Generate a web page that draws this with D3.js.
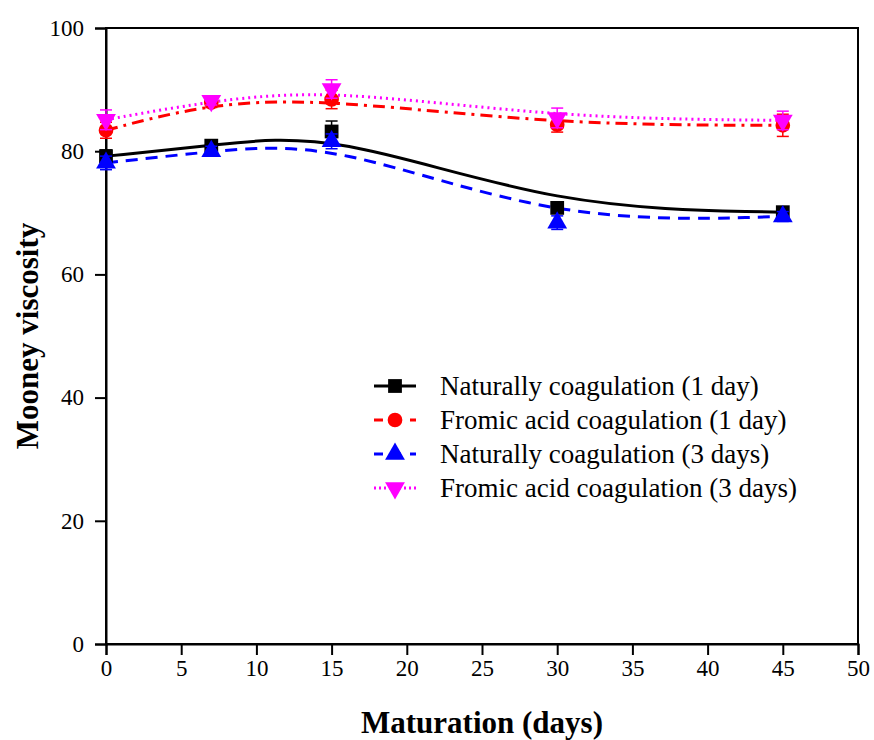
<!DOCTYPE html>
<html>
<head>
<meta charset="utf-8">
<script src="https://cdn.jsdelivr.net/npm/d3@7"></script>
<style>
  body { margin: 0; background: #fff; }
  svg text { font-family: "Liberation Serif", "Times New Roman", serif; }
</style>
</head>
<body>
<div id="chart"></div>
<script>
// Maturation days
const days = [0, 7, 15, 30, 45];

// Mooney viscosity per series
const natural1 = [79.2, 80.9, 83.2, 70.8, 70.1];
const natural1Err = [1.0, 0.8, 1.7, 0.8, 0.6];
const formic1 = [83.4, 87.9, 88.4, 84.3, 84.2];
const formic1Err = [1.3, 0.8, 1.5, 1.2, 1.8];
const natural3 = [78.1, 80.0, 81.6, 68.4, 69.4];
const natural3Err = [1.1, 0.8, 1.2, 1.1, 0.8];
const formic3 = [85.1, 88.2, 90.1, 85.4, 85.0];
const formic3Err = [1.6, 0.7, 1.5, 1.6, 1.5];

const seriesNames = [
    "Naturally coagulation (1 day)",
    "Fromic acid coagulation (1 day)",
    "Naturally coagulation (3 days)",
    "Fromic acid coagulation (3 days)"
];

const xTicks = [0, 5, 10, 15, 20, 25, 30, 35, 40, 45, 50];
const yTicks = [0, 20, 40, 60, 80, 100];

const series = [
    { name: seriesNames[0], values: natural1, err: natural1Err, color: "#000000", dash: null, legDash: null, symbol: d3.symbolSquare, size: 190, rot: 0 },
    { name: seriesNames[1], values: formic1, err: formic1Err, color: "#ff0000", dash: "12,6,3,6", legDash: "9,9", symbol: d3.symbolCircle, size: 170, rot: 0 },
    { name: seriesNames[2], values: natural3, err: natural3Err, color: "#0000ff", dash: "12,8", legDash: "9,9", symbol: d3.symbolTriangle, size: 170, rot: 0 },
    { name: seriesNames[3], values: formic3, err: formic3Err, color: "#ff00ff", dash: "2,4", legDash: "2,3", symbol: d3.symbolTriangle, size: 170, rot: 180 }
];

const width = 874, height = 740;
const margin = { left: 106, right: 16, top: 28, bottom: 96 };

const svg = d3.select("#chart").append("svg")
    .attr("width", width)
    .attr("height", height);

const x = d3.scaleLinear()
    .domain([0, 50])
    .range([margin.left, width - margin.right]);
const y = d3.scaleLinear()
    .domain([0, 100])
    .range([height - margin.bottom, margin.top]);

// frame
svg.append("rect")
    .attr("x", x(0))
    .attr("y", y(100))
    .attr("width", x(50) - x(0))
    .attr("height", y(0) - y(100))
    .attr("fill", "none")
    .attr("stroke", "#000")
    .attr("stroke-width", 2);

const xAxis = svg.append("g")
    .attr("transform", `translate(0,${y(0)})`)
    .call(d3.axisBottom(x).tickValues(xTicks).tickSize(11).tickPadding(5));
const yAxis = svg.append("g")
    .attr("transform", `translate(${x(0)},0)`)
    .call(d3.axisLeft(y).tickValues(yTicks).tickSize(11).tickPadding(11));

[xAxis, yAxis].forEach(g => {
    g.attr("font-family", null);
    g.select(".domain").attr("stroke-width", 2);
    g.selectAll(".tick line").attr("stroke-width", 2);
    g.selectAll(".tick text")
        .attr("font-size", 23)
        .attr("fill", "#000");
});

// fitted curves
const line = d3.line()
    .x((d, i) => x(days[i]))
    .y(d => y(d))
    .curve(d3.curveBasis);

series.forEach(s => {
    svg.append("path")
        .datum(s.values)
        .attr("fill", "none")
        .attr("stroke", s.color)
        .attr("stroke-width", 3)
        .attr("stroke-dasharray", s.dash)
        .attr("d", line);
});

// error bars and markers
series.forEach(s => {
    const g = svg.append("g");
    s.values.forEach((v, i) => {
        const cx = x(days[i]);
        const lo = y(v - s.err[i]), hi = y(v + s.err[i]);
        g.append("line")
            .attr("x1", cx).attr("x2", cx)
            .attr("y1", lo).attr("y2", hi)
            .attr("stroke", s.color).attr("stroke-width", 1.5);
        [lo, hi].forEach(yy => {
            g.append("line")
                .attr("x1", cx - 6).attr("x2", cx + 6)
                .attr("y1", yy).attr("y2", yy)
                .attr("stroke", s.color).attr("stroke-width", 1.5);
        });
        g.append("path")
            .attr("d", d3.symbol(s.symbol, s.size)())
            .attr("transform", `translate(${cx},${y(v)}) rotate(${s.rot})`)
            .attr("fill", s.color);
    });
});

// legend
const legend = svg.append("g");
series.forEach((s, i) => {
    const ly = 386 + i * 34;
    legend.append("line")
        .attr("x1", 374).attr("x2", 416)
        .attr("y1", ly).attr("y2", ly)
        .attr("stroke", s.color)
        .attr("stroke-width", 3)
        .attr("stroke-dasharray", s.legDash);
    legend.append("path")
        .attr("d", d3.symbol(s.symbol, s.size)())
        .attr("transform", `translate(395,${ly}) rotate(${s.rot})`)
        .attr("fill", s.color);
    legend.append("text")
        .attr("x", 440)
        .attr("y", ly)
        .attr("dy", "0.35em")
        .attr("font-size", 27)
        .attr("fill", "#000")
        .text(s.name);
});

// axis titles
svg.append("text")
    .attr("x", (x(0) + x(50)) / 2)
    .attr("y", 733)
    .attr("text-anchor", "middle")
    .attr("font-size", 31)
    .attr("font-weight", 700)
    .text("Maturation (days)");

svg.append("text")
    .attr("transform", `translate(38,${y(50)}) rotate(-90)`)
    .attr("text-anchor", "middle")
    .attr("font-size", 31)
    .attr("font-weight", 700)
    .text("Mooney viscosity");
</script>
</body>
</html>
